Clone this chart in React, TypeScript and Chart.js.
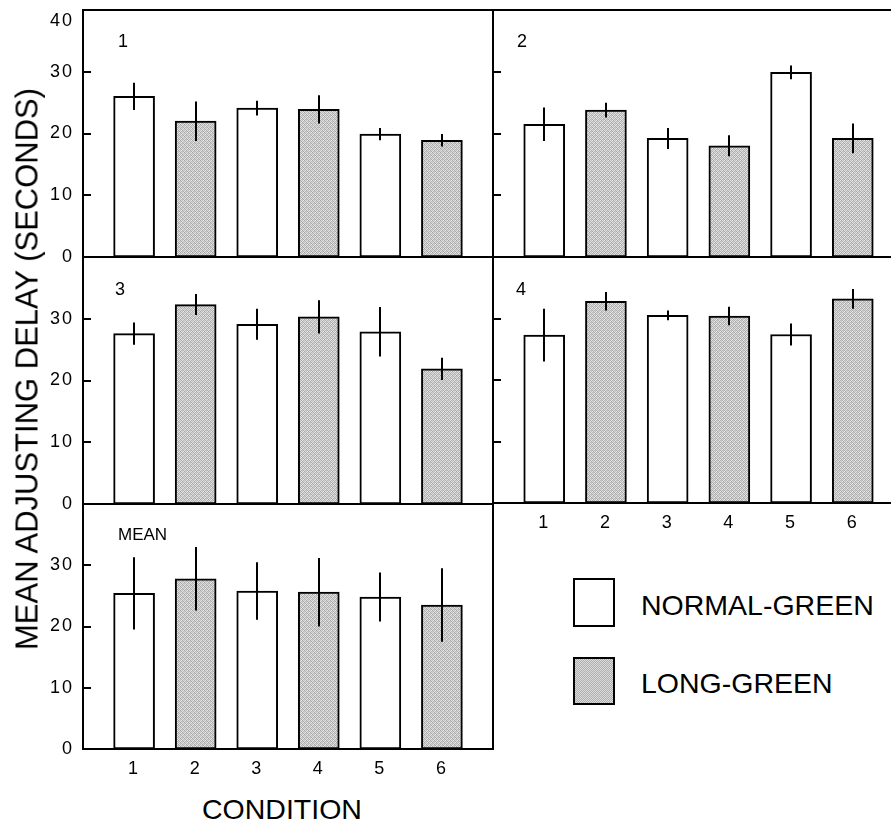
import React, { useEffect, useRef } from 'react';
import { Chart, registerables } from 'chart.js';

Chart.register(...registerables);

// ---------- data ----------
const CONDITIONS = [1, 2, 3, 4, 5, 6];
const CONDITION_GREEN = ['NORMAL-GREEN', 'LONG-GREEN', 'NORMAL-GREEN', 'LONG-GREEN', 'NORMAL-GREEN', 'LONG-GREEN'];
const SERIES_NAMES = ['NORMAL-GREEN', 'LONG-GREEN'];
const Y_TICKS = [0, 10, 20, 30, 40];

const PANEL_LABELS = ['1', '2', '3', '4', 'MEAN'];

const SUBJECT1_DELAY = [26.0, 22.0, 24.1, 23.9, 19.9, 18.9];
const SUBJECT1_ERR = [2.2, 3.2, 1.2, 2.3, 1.0, 1.0];

const SUBJECT2_DELAY = [21.5, 23.8, 19.2, 18.0, 29.9, 19.2];
const SUBJECT2_ERR = [2.7, 1.2, 1.7, 1.7, 1.1, 2.4];

const SUBJECT3_DELAY = [27.6, 32.3, 29.1, 30.3, 27.9, 21.9];
const SUBJECT3_ERR = [1.8, 1.7, 2.5, 2.7, 4.0, 1.8];

const SUBJECT4_DELAY = [27.3, 32.8, 30.5, 30.4, 27.4, 33.2];
const SUBJECT4_ERR = [4.3, 1.5, 0.8, 1.5, 1.8, 1.6];

const MEAN_DELAY = [25.4, 27.8, 25.8, 25.6, 24.8, 23.5];
const MEAN_ERR = [5.9, 5.2, 4.7, 5.6, 4.0, 6.0];

const Y_TITLE = 'MEAN ADJUSTING DELAY (SECONDS)';
const X_TITLE = 'CONDITION';

// ---------- style ----------
const FONT = "'Liberation Sans', Arial, Helvetica, sans-serif";

type Panel = {
  label: string;
  values: number[];
  errs: number[];
  left: number; top: number; width: number; height: number;
  yAxisW: number; padRight: number;
  showY: boolean; top40: boolean; showX: boolean;
  labelDx: number; labelDy: number;
};

const PANELS: Panel[] = [
  { label: PANEL_LABELS[0], values: SUBJECT1_DELAY, errs: SUBJECT1_ERR, left: 0, top: 0, width: 500, height: 297, yAxisW: 83, padRight: 7, showY: true, top40: true, showX: false, labelDx: 35, labelDy: 37 },
  { label: PANEL_LABELS[1], values: SUBJECT2_DELAY, errs: SUBJECT2_ERR, left: 473, top: 0, width: 450, height: 297, yAxisW: 20, padRight: 19, showY: false, top40: false, showX: false, labelDx: 24, labelDy: 37 },
  { label: PANEL_LABELS[2], values: SUBJECT3_DELAY, errs: SUBJECT3_ERR, left: 0, top: 247, width: 500, height: 297, yAxisW: 83, padRight: 7, showY: true, top40: false, showX: false, labelDx: 32, labelDy: 38 },
  { label: PANEL_LABELS[3], values: SUBJECT4_DELAY, errs: SUBJECT4_ERR, left: 473, top: 247, width: 450, height: 296, yAxisW: 20, padRight: 19, showY: false, top40: false, showX: true, labelDx: 23, labelDy: 38 },
  { label: PANEL_LABELS[4], values: MEAN_DELAY, errs: MEAN_ERR, left: 0, top: 494, width: 500, height: 295, yAxisW: 83, padRight: 7, showY: true, top40: false, showX: true, labelDx: 35, labelDy: 36 },
];

function makeStipple(): CanvasPattern | string {
  const c = document.createElement('canvas');
  c.width = 4;
  c.height = 4;
  const g = c.getContext('2d');
  if (!g) return '#c4c4c4';
  const shades = [
    '#a4a4a4', '#dcdcdc', '#bcbcbc', '#e8e8e8',
    '#d0d0d0', '#b0b0b0', '#e4e4e4', '#b6b6b6',
    '#c0c0c0', '#e6e6e6', '#a8a8a8', '#d6d6d6',
    '#e0e0e0', '#b4b4b4', '#cccccc', '#acacac',
  ];
  shades.forEach((s, i) => {
    g.fillStyle = s;
    g.fillRect(i % 4, Math.floor(i / 4), 1, 1);
  });
  return g.createPattern(c, 'repeat') || '#c4c4c4';
}

function PanelChart({ p }: { p: Panel }) {
  const ref = useRef<HTMLCanvasElement | null>(null);
  useEffect(() => {
    if (!ref.current) return;
    const stipple = makeStipple();
    const seriesData = SERIES_NAMES.map((name) =>
      CONDITIONS.map((c, i) => ({ x: c, y: p.values[i] })).filter((_, i) => CONDITION_GREEN[i] === name)
    );
    const labelSpacing = {
      id: 'labelSpacing',
      beforeDraw(chart: any) {
        (chart.ctx as any).letterSpacing = '2px';
      },
      afterDraw(chart: any) {
        (chart.ctx as any).letterSpacing = '0px';
      },
    };
    const panelPlugin = {
      id: 'panelDecor',
      afterDatasetsDraw(chart: any) {
        const { ctx, scales } = chart;
        const xs = scales.x;
        const ys = scales.y;
        ctx.save();
        ctx.strokeStyle = '#000';
        ctx.lineWidth = 2;
        CONDITIONS.forEach((c, i) => {
          const px = Math.round(xs.getPixelForValue(c));
          ctx.beginPath();
          ctx.moveTo(px, ys.getPixelForValue(p.values[i] + p.errs[i]));
          ctx.lineTo(px, ys.getPixelForValue(p.values[i] - p.errs[i]));
          ctx.stroke();
        });
        ctx.restore();
      },
      afterDraw(chart: any) {
        const { ctx, chartArea: a, scales } = chart;
        const ys = scales.y;
        ctx.save();
        (ctx as any).letterSpacing = '0px';
        ctx.strokeStyle = '#000';
        ctx.lineWidth = 2;
        ctx.strokeRect(a.left, a.top, a.right - a.left, a.bottom - a.top);
        Y_TICKS.filter((v) => v > 0 && v < 40).forEach((v) => {
          const py = Math.round(ys.getPixelForValue(v));
          ctx.beginPath();
          ctx.moveTo(a.left, py);
          ctx.lineTo(a.left + 8, py);
          ctx.stroke();
        });
        ctx.fillStyle = '#000';
        ctx.font = `${p.label.length > 1 ? 17 : 18}px ${FONT}`;
        ctx.textBaseline = 'alphabetic';
        ctx.textAlign = 'left';
        ctx.fillText(p.label, a.left + p.labelDx, a.top + p.labelDy);
        ctx.restore();
      },
    };
    const chart = new Chart(ref.current, {
      type: 'bar',
      data: {
        datasets: [
          { label: SERIES_NAMES[0], data: seriesData[0] as any, backgroundColor: '#ffffff' },
          { label: SERIES_NAMES[1], data: seriesData[1] as any, backgroundColor: stipple as any },
        ],
      },
      options: {
        animation: false,
        responsive: false,
        events: [],
        layout: { padding: { left: 0, top: 10, right: p.padRight, bottom: 0 } },
        datasets: {
          bar: { grouped: false, barThickness: 41, borderWidth: 2, borderColor: '#000', borderSkipped: false } as any,
        },
        plugins: { legend: { display: false }, tooltip: { enabled: false }, title: { display: false } },
        scales: {
          x: {
            type: 'linear',
            offset: false,
            min: 0.17,
            max: 6.83,
            grid: { display: false, drawTicks: false, offset: false },
            border: { display: false },
            afterBuildTicks: (s: any) => {
              s.ticks = CONDITIONS.map((v) => ({ value: v }));
            },
            afterFit: (s: any) => {
              s.height = 40;
              s.paddingLeft = 0; s.paddingRight = 0; s.paddingTop = 0; s.paddingBottom = 0;
            },
            ticks: {
              display: p.showX,
              color: '#000',
              font: { size: 18, family: FONT },
              padding: 9,
              maxRotation: 0,
              autoSkip: false,
              callback: (v: any) => String(v),
            },
          } as any,
          y: {
            type: 'linear',
            min: 0,
            max: 40,
            grid: { display: false, drawTicks: false },
            border: { display: false },
            afterBuildTicks: (s: any) => {
              s.ticks = Y_TICKS.map((v) => ({ value: v }));
            },
            afterFit: (s: any) => {
              s.width = p.yAxisW;
              s.paddingLeft = 0; s.paddingRight = 0; s.paddingTop = 0; s.paddingBottom = 0;
            },
            ticks: {
              display: p.showY,
              color: '#000',
              font: { size: 18, family: FONT },
              padding: 9,
              autoSkip: false,
              callback: (v: any) => {
                if (v === 40) return p.top40 ? ['', '40'] : '';
                return String(v);
              },
            },
          } as any,
        },
      },
      plugins: [labelSpacing, panelPlugin],
    });
    return () => chart.destroy();
  }, [p]);
  return (
    <canvas
      ref={ref}
      width={p.width}
      height={p.height}
      style={{ position: 'absolute', left: p.left, top: p.top, width: p.width, height: p.height }}
    />
  );
}

export default function App() {
  const textBase: React.CSSProperties = { position: 'absolute', fontFamily: FONT, color: '#000', whiteSpace: 'nowrap', lineHeight: 1 };
  return (
    <div style={{ position: 'fixed', left: 0, top: 0, width: 891, height: 823, overflow: 'hidden', background: '#fff' }}>
      {PANELS.map((p) => (
        <PanelChart key={p.label} p={p} />
      ))}
      <div style={{ ...textBase, left: 27, top: 369, fontSize: 31, transform: 'translate(-50%, -50%) rotate(-90deg)' }}>{Y_TITLE}</div>
      <div style={{ ...textBase, left: 282, top: 809, fontSize: 28.5, transform: 'translate(-50%, -50%)' }}>{X_TITLE}</div>
      <div style={{ position: 'absolute', left: 573, top: 578, width: 42, height: 49, boxSizing: 'border-box', border: '2px solid #000', background: '#fff' }} />
      <div style={{ position: 'absolute', left: 573, top: 657, width: 42, height: 48, boxSizing: 'border-box', border: '2px solid #000', background: 'repeating-conic-gradient(#b0b0b0 0 25%, #dadada 0 50%)', backgroundSize: '2px 2px' }} />
      <div style={{ ...textBase, left: 641, top: 605, fontSize: 28.5, transform: 'translateY(-50%)' }}>{SERIES_NAMES[0]}</div>
      <div style={{ ...textBase, left: 641, top: 683, fontSize: 28.5, transform: 'translateY(-50%)' }}>{SERIES_NAMES[1]}</div>
    </div>
  );
}
